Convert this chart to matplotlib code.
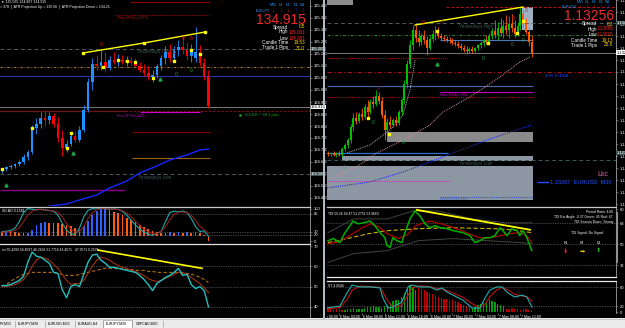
import numpy as np
import matplotlib
matplotlib.use('Agg')
import matplotlib.pyplot as plt
from matplotlib.patches import Rectangle
from matplotlib.lines import Line2D
from matplotlib.ticker import MultipleLocator, FormatStrFormatter, FixedLocator

plt.rcParams['font.family'] = ['Liberation Sans', 'DejaVu Sans']

W, H = 625.0, 328.0

# ---------------- EURJPY M30 (left window) ----------------
jpy_o = [134.595, 134.605, 134.615, 134.62, 134.63, 134.64, 134.665, 134.69, 134.81, 134.83,
         134.86, 134.85, 134.87, 134.83, 134.76, 134.71, 134.73, 134.77, 134.75, 134.80,
         134.90, 135.04, 135.13, 135.12, 135.14, 135.11, 135.15, 135.14, 135.15, 135.14,
         135.145, 135.135, 135.12, 135.10, 135.085, 135.065, 135.075, 135.12, 135.16, 135.19,
         135.16, 135.20, 135.215, 135.20, 135.17, 135.16, 135.19, 135.135, 135.07]
jpy_h = [134.61, 134.62, 134.63, 134.635, 134.65, 134.68, 134.70, 134.825, 134.86, 134.89,
         134.90, 134.89, 134.885, 134.865, 134.80, 134.75, 134.79, 134.795, 134.82, 134.925,
         135.06, 135.16, 135.175, 135.20, 135.19, 135.17, 135.19, 135.18, 135.175, 135.17,
         135.165, 135.16, 135.14, 135.13, 135.12, 135.10, 135.13, 135.175, 135.22, 135.23,
         135.22, 135.25, 135.27, 135.24, 135.23, 135.315, 135.225, 135.16, 135.10]
jpy_l = [134.585, 134.595, 134.605, 134.61, 134.62, 134.63, 134.65, 134.68, 134.78, 134.81,
         134.82, 134.83, 134.815, 134.74, 134.67, 134.69, 134.72, 134.74, 134.74, 134.79,
         134.89, 135.00, 135.10, 135.10, 135.09, 135.10, 135.13, 135.12, 135.13, 135.12,
         135.125, 135.11, 135.09, 135.07, 135.05, 135.04, 135.06, 135.10, 135.13, 135.14,
         135.15, 135.17, 135.18, 135.15, 135.14, 135.14, 135.12, 135.05, 134.91]
jpy_c = [134.605, 134.615, 134.62, 134.63, 134.64, 134.665, 134.69, 134.81, 134.83, 134.86,
         134.85, 134.87, 134.83, 134.76, 134.71, 134.73, 134.77, 134.75, 134.80, 134.90,
         135.04, 135.13, 135.12, 135.14, 135.11, 135.15, 135.14, 135.15, 135.14, 135.145,
         135.135, 135.12, 135.10, 135.085, 135.065, 135.075, 135.12, 135.16, 135.19, 135.16,
         135.20, 135.215, 135.20, 135.17, 135.20, 135.19, 135.135, 135.07, 134.92]
jpy_ma_x = [11, 15, 18, 22, 25, 29, 32, 36, 39, 43, 46, 48]
jpy_ma = [134.42, 134.43, 134.45, 134.475, 134.51, 134.545, 134.585, 134.62, 134.65, 134.675, 134.70, 134.705]
jpy_trend_x = [18.8, 33, 47.2]
jpy_trend = [135.185, 135.235, 135.29]
jpy_dots_x = [0, 7, 15, 16, 23.5, 27, 29, 31, 35, 40, 44, 46]
jpy_dots = [134.605, 134.81, 134.71, 134.785, 135.115, 135.15, 135.145, 135.14, 135.06, 135.145, 135.20, 135.18]
jpy_arrows_x = [1, 16.5, 36.7]
jpy_arrows = [134.525, 134.685, 135.055]
jpy_red0_x = [23, 40, 42, 44]
jpy_red0 = [135.23, 135.185, 135.26, 135.26]
jpy_green0_x = [40.5, 44]
jpy_green0 = [135.075, 135.10]
jpy_ao = [30, 31, 29, 28, 27, 26, 27, 34, 50, 56, 58, 57, 56, 55, 52, 50, 46, 40, 36, 46,
          62, 80, 92, 98, 102, 96, 90, 86, 80, 72, 64, 58, 50, 44, 38, 32, 28, 27, 26, 28,
          27, 28, 27, 28, 27, 28, 26, 18, 2]
jpy_ao_fast = [30, 31, 33, 40, 60, 88, 100, 98, 96, 98, 96, 94, 92, 80, 55, 35, 22, 22, 40, 75,
               95, 100, 99, 101, 100, 98, 99, 98, 92, 80, 65, 50, 38, 28, 22, 18, 25, 30, 60, 88,
               92, 90, 93, 88, 70, 45, 30, 32, 15]
jpy_ao_slow = [28, 29, 30, 33, 42, 60, 80, 92, 97, 97, 96, 95, 93, 88, 75, 55, 38, 28, 30, 45,
               70, 88, 97, 100, 100, 99, 98, 97, 94, 87, 76, 62, 48, 37, 29, 24, 24, 30, 45, 66,
               82, 89, 90, 88, 80, 64, 46, 36, 25]
jpy_rsi = [50.5, 50.5, 51, 52, 53, 55, 62, 67, 65, 64.5, 63, 61.5, 57, 56.5, 48.5, 44.5, 50, 51, 50, 56,
           62, 65.5, 66, 63, 61.5, 59.5, 59.5, 59, 58.5, 58, 57.5, 57, 55.5, 53.5, 51, 48, 51.5, 53, 54.5, 55.5,
           57, 59, 55.5, 56, 51, 49, 50, 48, 40]
jpy_rsi_sig = [50, 50, 50.5, 51, 52, 53.5, 56, 60, 63, 64.5, 64, 63, 61, 59, 56, 53, 51, 51.5, 51.5, 53,
               56.5, 60, 63, 64.5, 64, 63, 61.5, 60.5, 59.5, 59, 58, 57.5, 56.5, 55.5, 54, 53, 52.5, 53, 54, 55,
               56, 57, 57, 56, 54.5, 53, 51.5, 49.5, 47]
jpy_rsi_slow = [50, 51, 52.5, 54, 55, 56, 56.5, 57, 57, 57, 57, 57, 57, 56.5, 56, 55.5, 55.5, 55.5, 56, 56.5,
                57, 57.5, 58, 58.5, 59, 59, 59, 59, 59, 58.5, 58.5, 58, 58, 58, 57.5, 57.5, 57, 57, 57, 57,
                57, 57, 56.5, 56.5, 56, 55.5, 54.5, 53.5, 52]
jpy_rsi_trend_x = [22.3, 46.5]
jpy_rsi_trend = [68, 59]

# ---------------- EURUSD M30 (right window) ----------------
eur_o = [1.12755, 1.12750, 1.12755, 1.12745, 1.12750, 1.12745, 1.12775, 1.12795, 1.12820, 1.12885,
         1.12930, 1.12915, 1.12950, 1.12935, 1.12985, 1.12960, 1.13010, 1.13000, 1.13040, 1.13015,
         1.12945, 1.12870, 1.12910, 1.12895, 1.12920, 1.12905, 1.12960, 1.13020, 1.13100, 1.13200,
         1.13295, 1.13370, 1.13330, 1.13310, 1.13340, 1.13320, 1.13280, 1.13325, 1.13350, 1.13365,
         1.13340, 1.13330, 1.13325, 1.13320, 1.13315, 1.13305, 1.13300, 1.13290, 1.13280, 1.13270,
         1.13265, 1.13275, 1.13265, 1.13280, 1.13295, 1.13305, 1.13320, 1.13310, 1.13340, 1.13365,
         1.13345, 1.13380, 1.13355, 1.13390, 1.13370, 1.13400, 1.13380, 1.13350, 1.13390, 1.13450,
         1.13400, 1.13360, 1.13310]
eur_h = [1.12765, 1.12760, 1.12765, 1.12760, 1.12765, 1.12785, 1.12805, 1.12830, 1.12900, 1.12955,
         1.12960, 1.12960, 1.12980, 1.13000, 1.13020, 1.13025, 1.13040, 1.13070, 1.13060, 1.13035,
         1.12970, 1.12930, 1.12940, 1.12930, 1.12940, 1.12970, 1.13030, 1.13120, 1.13220, 1.13320,
         1.13395, 1.13395, 1.13370, 1.13355, 1.13370, 1.13340, 1.13340, 1.13370, 1.13390, 1.13385,
         1.13355, 1.13345, 1.13340, 1.13335, 1.13330, 1.13320, 1.13315, 1.13305, 1.13295, 1.13290,
         1.13285, 1.13290, 1.13285, 1.13300, 1.13315, 1.13330, 1.13345, 1.13355, 1.13380, 1.13420,
         1.13410, 1.13430, 1.13420, 1.13445, 1.13440, 1.13450, 1.13420, 1.13410, 1.13485, 1.13470,
         1.13430, 1.13380, 1.13345]
eur_l = [1.12740, 1.12740, 1.12740, 1.12735, 1.12740, 1.12735, 1.12765, 1.12780, 1.12805, 1.12865,
         1.12900, 1.12905, 1.12920, 1.12925, 1.12930, 1.12950, 1.12980, 1.12990, 1.13000, 1.12930,
         1.12820, 1.12840, 1.12880, 1.12885, 1.12890, 1.12895, 1.12945, 1.13000, 1.13080, 1.13180,
         1.13270, 1.13310, 1.13290, 1.13295, 1.13300, 1.13245, 1.13270, 1.13310, 1.13320, 1.13330,
         1.13320, 1.13315, 1.13310, 1.13305, 1.13295, 1.13290, 1.13280, 1.13270, 1.13260, 1.13250,
         1.13255, 1.13255, 1.13260, 1.13270, 1.13280, 1.13290, 1.13300, 1.13300, 1.13325, 1.13330,
         1.13320, 1.13340, 1.13330, 1.13350, 1.13330, 1.13360, 1.13335, 1.13340, 1.13370, 1.13380,
         1.13350, 1.13290, 1.13235]
eur_c = [1.12750, 1.12755, 1.12745, 1.12750, 1.12745, 1.12775, 1.12795, 1.12820, 1.12885, 1.12930,
         1.12915, 1.12950, 1.12935, 1.12985, 1.12960, 1.13010, 1.13000, 1.13040, 1.13015, 1.12945,
         1.12870, 1.12910, 1.12895, 1.12920, 1.12905, 1.12960, 1.13020, 1.13100, 1.13200, 1.13295,
         1.13370, 1.13330, 1.13310, 1.13340, 1.13320, 1.13280, 1.13325, 1.13350, 1.13365, 1.13340,
         1.13330, 1.13325, 1.13320, 1.13315, 1.13305, 1.13300, 1.13290, 1.13280, 1.13270, 1.13265,
         1.13275, 1.13265, 1.13280, 1.13295, 1.13305, 1.13320, 1.13310, 1.13340, 1.13365, 1.13345,
         1.13380, 1.13355, 1.13390, 1.13370, 1.13400, 1.13380, 1.13350, 1.13390, 1.13450, 1.13400,
         1.13360, 1.13310, 1.13256]
eur_sar_x = [6.7, 14.8, 21.9, 26.5, 29, 30.8]
eur_sar = [1.12755, 1.12795, 1.12870, 1.12945, 1.13070, 1.13220]
eur_pink_x = [1.8, 9.5, 17.3, 26.5, 36, 40.6, 50.2, 60.8, 67.8, 71.4]
eur_pink = [1.12630, 1.12680, 1.12755, 1.12820, 1.12895, 1.12960, 1.13035, 1.13135, 1.13210, 1.13235]
eur_ma_x = [-0.4, 14.8, 26.5, 36, 44.2, 56.2, 72]
eur_ma = [1.12580, 1.12610, 1.12660, 1.12710, 1.12755, 1.12820, 1.12895]
eur_trend_x = [30.8, 68.9]
eur_trend = [1.13395, 1.13485]
eur_zone_lo = [1.12810, 1.12715, 1.12520, 1.13370]
eur_zone_hi = [1.12860, 1.12740, 1.12690, 1.13485]
eur_zone_start = [20.9, 4.9, -0.4, 68.6]
eur_dots_x = [14.1, 21.6, 38.5, 56.5, 66.8, 68.9]
eur_dots = [1.12930, 1.12850, 1.13365, 1.13305, 1.13355, 1.13415]
eur_red0_x = [13.8, 17.7, 33.6, 40.3, 62.9, 65.4, 70]
eur_red0 = [1.12955, 1.13080, 1.13410, 1.13405, 1.13385, 1.13425, 1.13470]
eur_green0_x = [5.7, 15.9, 26.5, 54.8, 65, 68.9]
eur_green0 = [1.12685, 1.12905, 1.12805, 1.13230, 1.13300, 1.13320]

tdi_x = [0, 1.8, 4.2, 6, 7.8, 8.8, 10.6, 12.4, 14.8, 16.6, 18.4, 20.1, 20.8, 21.9, 22.9, 24.4, 26.1, 27.2,
         29, 30.7, 32.5, 34.3, 36, 37.8, 39.6, 42.1, 44.2, 47.7, 50.2, 51.9, 53.7, 55.5, 57.2, 59, 60.8,
         61.8, 63.3, 65, 66.8, 67.8, 68.9, 70.3, 72]
tdi_green = [53, 55, 51.5, 60, 66, 70, 67.6, 68.4, 70, 66, 60, 55.7, 49, 47.3, 55.7, 53, 51.5, 60,
             71.8, 78.6, 74.4, 67.6, 64.2, 66, 64.2, 63.4, 61.7, 60, 57.4, 51.5, 53.2, 55.7, 55.7, 57.4, 64.2,
             61.7, 57.4, 63.4, 61.7, 57.4, 61.7, 55.7, 44.7]
tdi_red_x = [0, 4, 8, 12, 15, 18, 21, 25, 28, 31, 36, 41, 46, 50, 53, 56, 60, 64, 67, 70, 72]
tdi_red = [50.5, 52, 58, 64, 67.6, 65, 59, 55, 58, 66, 70, 67, 63, 59, 56, 55, 57, 59, 60, 58, 51.5]
tdi_mid_x = [0, 7, 14, 21, 32, 44, 59, 65, 72]
tdi_mid = [51.5, 55, 59, 61.7, 63.4, 64.2, 63.4, 62.5, 60]
tdi_up_x = [0, 9, 21, 30, 39, 51, 63, 72]
tdi_up = [60, 71.8, 71.8, 78.6, 78.6, 71.8, 68.4, 68.4]
tdi_dn_x = [0, 9, 21, 32, 44, 56, 68, 72]
tdi_dn = [34.5, 42, 44.7, 53.2, 54.9, 53.2, 51.5, 50.6]
tdi_trend_x = [31.4, 71.4]
tdi_trend = [79.5, 62.5]

st_x = [-0.4, 4.2, 6.7, 8.5, 11.3, 14.8, 18.4, 19.4, 21.2, 23, 26.1, 28.3, 29.7, 32.5, 36, 38.5,
        40.3, 42, 44.2, 47.7, 50.9, 53.7, 55.5, 57.2, 59.7, 61.5, 63.6, 66, 68.6, 70.3, 72.1]
st_main = [14, 20, 62, 87, 81, 81, 78, 46, 14, 17, 33, 81, 87, 81, 81, 71, 78, 65, 55, 39, 14, 14,
           46, 71, 81, 81, 62, 49, 55, 49, 17]
st_sig = [12, 15, 40, 70, 84, 82, 80, 65, 35, 18, 22, 55, 78, 85, 82, 76, 75, 70, 62, 48, 28, 14,
          25, 50, 72, 80, 72, 58, 52, 50, 35]
st_hist = [-15, -14, -12, -12, -10, -9, 8, 10, 12, 14, 12, 10, 12, 14, 16, 18, 20, 18, 16, 14,
           20, 25, 30, 35, 38, 40, 50, 62, 75, 86, 80, 70, -78, -74, -70, -66, -62, -58, -54, -50,
           -46, -44, -42, -40, -38, -36, -32, -28, -24, -20, -17, 14, 18, 22, 26, 30, 34, 38, 36, 32,
           28, 24, 20, -12, -10, -14, -12, -10, -8, -10, -12, -8, -6]
time_idx = [-4, 4, 12, 20, 28, 36, 44, 52, 60, 68]
time_lab = ['6 May 00:00', '6 May 04:00', '6 May 08:00', '6 May 12:00', '6 May 16:00',
            '6 May 20:00', '7 May 00:00', '7 May 04:00', '7 May 08:00', '7 May 12:00']
tabs = ['PY,M15', 'EURJPY,M30', 'EURUSD,M30', 'EURAUD,H4', 'EURJPY,M30', 'GBPCAD,M30']

fig = plt.figure(figsize=(6.25, 3.28), dpi=100, facecolor='black')


def fx(px):
    return px / W


def fy(py):
    return 1 - py / H


def panel(x0, y0, x1, y1):
    ax = fig.add_axes([x0 / W, 1 - y1 / H, (x1 - x0) / W, (y1 - y0) / H])
    ax.set_facecolor('black')
    for s in ax.spines.values():
        s.set_visible(False)
    ax.spines['right'].set_visible(True)
    ax.spines['right'].set_color('#a0a0a0')
    ax.spines['right'].set_linewidth(0.6)
    ax.tick_params(left=False, bottom=False, labelleft=False, labelbottom=False,
                   right=True, labelright=True, length=1.5, width=0.4, pad=1,
                   color='#a0a0a0', labelcolor='white', labelsize=3)
    return ax


def top_line(ax, color):
    ax.spines['top'].set_visible(True)
    ax.spines['top'].set_color(color)
    ax.spines['top'].set_linewidth(0.9)


def candles(ax, o, h, l, c, up, down, width):
    x = np.arange(len(o))
    o = np.array(o)
    c = np.array(c)
    col = np.where(c >= o, up, down)
    ax.vlines(x, l, h, colors=col, linewidth=0.6, zorder=3)
    ax.bar(x, c - o, bottom=o, width=width, color=col, linewidth=0, zorder=3)


def ftext(px, py, s, **kw):
    kw.setdefault('color', 'white')
    kw.setdefault('fontsize', 3)
    kw.setdefault('va', 'center')
    fig.text(fx(px), fy(py), s, **kw)


# ---------- left main ----------
lm = panel(0, 0, 310, 206)
lm.set_xlim(-0.47, 71.6)
lm.set_ylim(134.42, 135.45)
lm.yaxis.set_major_locator(MultipleLocator(0.06))
lm.yaxis.set_major_formatter(FormatStrFormatter('%.3f'))

lm.hlines(135.44, 29.8, 48.4, color='#8b0000', lw=0.8)
lm.hlines(135.375, 26.3, 48.4, color='#c00000', lw=0.6, linestyles=(0, (1, 1)))
lm.text(27, 135.36, 'Prev D Fibo 127%', color='#c81010', fontsize=2.7, va='center')
lm.axhline(135.205, color='#4a5c5c', lw=0.7, ls=(0, (4, 3)))
lm.text(31.4, 135.19, 'Yesterdays High', color='#3e5a5a', fontsize=3.3, va='center')
lm.axhline(135.115, color='#c88a20', lw=0.6, ls=(0, (3, 2, 1, 2)))
lm.axhline(135.07, color='#2838a8', lw=0.8)
lm.axhline(134.915, color='#8a8a8a', lw=0.6)
lm.hlines(134.895, -0.5, 28.6, color='#d01010', lw=0.9, linestyles=(0, (1, 0.6)))
lm.hlines(134.895, 28.6, 71.6, color='#901010', lw=0.6, linestyles=(0, (3, 2)))
lm.hlines(134.89, 32.1, 46.0, color='#d000d0', lw=0.8)
lm.text(26.7, 134.872, 'Prev D Fibo 62%', color='#d000d0', fontsize=2.7, va='center')
lm.plot([55.3], [134.875], marker='s', ms=0.8, color='#20a020', ls='none')
lm.text(56.2, 134.875, '134.835 * 68.3 pips', color='#20a020', fontsize=3, va='center')
lm.hlines(134.79, 30.2, 48.4, color='#800000', lw=0.8)
lm.hlines(134.66, 30.2, 48.4, color='#a06010', lw=0.8)
lm.axhline(134.58, color='#4a5c5c', lw=0.7, ls=(0, (4, 3)))
lm.text(31.6, 134.562, 'Yesterdays Low', color='#3e5a5a', fontsize=3.3, va='center')
lm.hlines(134.50, -0.5, 28.6, color='#8a008a', lw=1.0)
lm.plot(jpy_ma_x, jpy_ma, color='#1428ff', lw=1.0, zorder=2)
candles(lm, jpy_o, jpy_h, jpy_l, jpy_c, '#1e90ff', '#ff0000', 0.6)
lm.plot(jpy_trend_x, jpy_trend, color='yellow', lw=1.0, marker='s', ms=1.8, zorder=4)
lm.plot(jpy_dots_x, jpy_dots, ls='none', marker='s', ms=1.5, color='yellow', zorder=4)
lm.plot(jpy_arrows_x, jpy_arrows, ls='none', marker='^', ms=2.2, color='#20a040', zorder=4)
for x, y in zip(jpy_red0_x, jpy_red0):
    lm.text(x, y, '0', color='#d01010', fontsize=3.5, ha='center', va='center', zorder=5)
for x, y in zip(jpy_green0_x, jpy_green0):
    lm.text(x, y, '0', color='#20a040', fontsize=3.5, ha='center', va='center', zorder=5)
ytr = lm.get_yaxis_transform()
lm.text(1.003, 134.915, '134.915', transform=ytr, fontsize=3, color='black', va='center',
        bbox=dict(fc='white', ec='none', pad=0.3), clip_on=False)
for v in [135.205, 134.58]:
    lm.text(1.003, v, '%.3f' % v, transform=ytr, fontsize=3, color='white', va='center',
            bbox=dict(fc='#3c5050', ec='none', pad=0.3), clip_on=False)

# ---------- left AO panel ----------
la = panel(0, 207, 310, 243)
la.set_xlim(-0.47, 71.6)
la.set_ylim(-5, 105)
top_line(la, '#c8c8c8')
la.yaxis.set_major_locator(FixedLocator([0, 20, 30, 85, 100]))
for lv in [85, 28, 20]:
    la.axhline(lv, color='#808080', lw=0.5, ls=(0, (1, 1.5)))
ao = np.array(jpy_ao)
ao_col = ['#3060ff' if i > 0 and ao[i] >= ao[i - 1] else '#ff5a10' for i in range(len(ao))]
la.bar(np.arange(len(ao)), ao - 16, bottom=16, width=0.4, color=ao_col, linewidth=0)
la.plot(jpy_ao_fast, color='#20a8a8', lw=0.8)
la.plot(jpy_ao_slow, color='#a02020', lw=0.7)
la.text(0.005, 0.86, 'SD AO 0.1581', transform=la.transAxes, color='white', fontsize=2.6)

# ---------- left RSI panel ----------
lr = panel(0, 244, 310, 318)
lr.set_xlim(-0.47, 71.6)
lr.set_ylim(34.5, 71)
top_line(lr, '#e0e0e0')
lr.yaxis.set_major_locator(FixedLocator([40, 50, 60, 70]))
for lv in [60, 50, 40]:
    lr.axhline(lv, color='#808080', lw=0.5, ls=(0, (1, 1.5)))
lr.plot(jpy_rsi_slow, color='#b07010', lw=0.8, ls=(0, (3, 2)))
lr.plot(jpy_rsi_sig, color='#a03010', lw=0.8)
lr.plot(jpy_rsi, color='#20c0c0', lw=1.0)
lr.plot(jpy_rsi_trend_x, jpy_rsi_trend, color='yellow', lw=1.2)
lr.text(0.005, 0.95, 'rsi 55.4290 54.4597 46.2696 51.7719 42.4571   47.9571 0.2576',
        transform=lr.transAxes, color='white', fontsize=2.4, va='top')

# ---------- right main ----------
XL = (-0.35, 101.8)
rm = panel(327, 0, 616, 206)
rm.set_xlim(*XL)
rm.set_ylim(1.12490, 1.13520)
rm.yaxis.set_major_locator(MultipleLocator(0.0006))
rm.yaxis.set_major_formatter(FormatStrFormatter('%.5f'))
zone_cols = ['#8a8a8a', '#8d97a3', '#8d97a3', '#9fb0c4']
for lo, hi, st, cl in zip(eur_zone_lo, eur_zone_hi, eur_zone_start, zone_cols):
    rm.add_patch(Rectangle((st, lo), 72.4 - st, hi - lo, fc=cl, ec='none', zorder=0.5))
rm.hlines(1.13485, 41.7, XL[1], color='#c01010', lw=0.7, linestyles=(0, (3, 2)))
rm.axhline(1.13405, color='#4a5c5c', lw=0.7, ls=(0, (4, 3)))
rm.text(46.3, 1.13390, 'Yesterdays High', color='#3e5a5a', fontsize=3.3, va='center')
rm.axhline(1.13345, color='#2a8a2a', lw=0.7, ls=(0, (3, 2, 1, 2)))
rm.hlines(1.13320, 39.6, 72.4, color='#4a78b8', lw=0.8)
rm.axhline(1.13256, color='#8a8a8a', lw=0.6)
rm.hlines(1.13230, -0.4, 42.1, color='#b01010', lw=0.8, linestyles=(0, (1, 1)))
rm.axhline(1.13160, color='#b01010', lw=0.8, ls=(0, (4, 2, 1, 2)))
rm.text(76.7, 1.13140, '4HR 10 EMA', color='#2040ff', fontsize=2.8, va='center')
rm.hlines(1.13090, -0.4, 72.4, color='#4a6ab0', lw=0.8)
rm.hlines(1.13060, 39.6, 72.4, color='#c000c0', lw=0.8)
rm.text(39.6, 1.13045, 'Prev D Fibo 38%', color='#d000d0', fontsize=2.7, va='center')
rm.hlines(1.13035, -0.4, 72.4, color='#a01010', lw=0.8, linestyles=(0, (1, 1)))
rm.hlines(1.12755, -0.4, 42.4, color='#3070d0', lw=0.9)
rm.axhline(1.12720, color='#3a5a5a', lw=0.7, ls=(0, (4, 3)))
rm.text(46.3, 1.12705, 'Yesterdays Low', color='#3e5a5a', fontsize=3.3, va='center')
rm.hlines(1.12615, -0.4, 43.1, color='#c050c0', lw=0.6)
rm.hlines(1.12535, 39.6, 72.4, color='#3050d0', lw=0.8, linestyles=(0, (1, 1)))
rm.text(39.6, 1.12525, 'Prev D Fibo 13%', color='#3050d0', fontsize=2.7, va='center')
rm.plot(eur_sar_x, eur_sar, color='#b0b0b0', lw=0.7, ls=(0, (1, 1)))
rm.plot(eur_pink_x, eur_pink, color='#d090a0', lw=0.7, ls=(0, (1, 1)))
rm.plot(eur_ma_x, eur_ma, color='#2030e0', lw=0.8, ls=(0, (1, 1)))
candles(rm, eur_o, eur_h, eur_l, eur_c, '#00c000', '#ff5a00', 0.7)
rm.plot(eur_trend_x, eur_trend, color='yellow', lw=1.0, zorder=4)
rm.plot(eur_dots_x, eur_dots, ls='none', marker='s', ms=1.5, color='yellow', zorder=4)
rm.plot([38.5], [1.13200], ls='none', marker='^', ms=2.2, color='#20a040', zorder=4)
for x, y in zip(eur_red0_x, eur_red0):
    rm.text(x, y, '0', color='#d01010', fontsize=3.5, ha='center', va='center', zorder=5)
for x, y in zip(eur_green0_x, eur_green0):
    rm.text(x, y, '0', color='#20a040', fontsize=3.5, ha='center', va='center', zorder=5)
rm.hlines(1.12610, 74, 78, color='#2050ff', lw=1.0)
rm.text(78.4, 1.12610, '1.13267  EURUSD  M30', color='#2050ff', fontsize=4.1, va='center')
rm.text(97.3, 1.12650, 'Lkc', color='#e060a0', fontsize=5, va='center', ha='center')
ytr2 = rm.get_yaxis_transform()
rm.text(1.003, 1.13256, '1.13256', transform=ytr2, fontsize=3, color='black', va='center',
        bbox=dict(fc='white', ec='none', pad=0.3), clip_on=False)
for v in [1.13405, 1.12755]:
    rm.text(1.003, v, '%.5f' % v, transform=ytr2, fontsize=3, color='white', va='center',
            bbox=dict(fc='#3c5050', ec='none', pad=0.3), clip_on=False)

# ---------- right TDI panel ----------
rt = panel(327, 207, 616, 277)
rt.set_xlim(*XL)
rt.set_ylim(22, 82)
top_line(rt, '#c8c8c8')
rt.spines['bottom'].set_visible(True)
rt.spines['bottom'].set_color('#e8e8e8')
rt.spines['bottom'].set_linewidth(0.9)
rt.yaxis.set_major_locator(FixedLocator([32, 50, 68, 80]))
for lv in [68, 50, 32]:
    rt.axhline(lv, color='#808080', lw=0.5, ls=(0, (1, 1.5)))
rt.plot(tdi_up_x, tdi_up, color='#3c463c', lw=0.7)
rt.plot(tdi_dn_x, tdi_dn, color='#3c463c', lw=0.7)
rt.plot(tdi_mid_x, tdi_mid, color='#c8b400', lw=0.8, ls=(0, (4, 2)))
rt.plot(tdi_red_x, tdi_red, color='#c00000', lw=0.8)
rt.plot(tdi_x, tdi_green, color='#00b000', lw=1.1)
rt.plot(tdi_trend_x, tdi_trend, color='yellow', lw=1.3)
rt.text(0.003, 0.93, 'TDI 59.26 49.47 51.2751 53.9663', transform=rt.transAxes,
        color='white', fontsize=2.4, va='top')

# ---------- right stochastic panel ----------
rs = panel(327, 281, 616, 313)
rs.set_xlim(*XL)
rs.set_ylim(-2, 100)
top_line(rs, '#e8e8e8')
rs.yaxis.set_major_locator(FixedLocator([0, 20, 80]))
for lv in [80, 20]:
    rs.axhline(lv, color='#808080', lw=0.5, ls=(0, (1, 1.5)))
hv = np.array(st_hist)
rs.bar(np.arange(len(hv)), np.abs(hv), width=0.45,
       color=np.where(hv > 0, '#00a000', '#c00000'), linewidth=0)
rs.plot(st_x, st_sig, color='#c01010', lw=0.8)
rs.plot(st_x, st_main, color='#20b0b0', lw=0.8)
rs.text(0.003, 0.9, 'ST 4.0044', transform=rs.transAxes, color='white', fontsize=2.4, va='top')

# ---------- time axis ----------
tx = fig.add_axes([fx(327), fy(320), fx(616) - fx(327), 7 / H])
tx.set_facecolor('black')
tx.set_xlim(*XL)
tx.set_ylim(0, 1)
tx.axis('off')
for i, lab in zip(time_idx, time_lab):
    tx.vlines(i, 0.75, 1.0, color='#a0a0a0', lw=0.4)
    tx.text(i + 0.3, 0.4, lab, color='white', fontsize=2.6, va='center', clip_on=True)

# ---------- window frames / decorations ----------
fig.add_artist(Line2D([fx(324), fx(324)], [fy(0), fy(319)], color='#b8c0cc', lw=1.4))
fig.add_artist(Line2D([fx(617), fx(617)], [fy(213), fy(262)], color='#909090', lw=1.5))
fig.add_artist(Rectangle((fx(327), fy(5)), fx(26), 5 / H, fc='#8c8c8c', ec='none'))
fig.add_artist(Rectangle((0, 0), 1, 10 / H, fc='#ececec', ec='none'))
fig.add_artist(Line2D([0, 1], [fy(318.5), fy(318.5)], color='#c8c8c8', lw=0.8))
fig.add_artist(Rectangle((fx(103), 0), fx(29), 8 / H, fc='white', ec='#909090', lw=0.4))
tab_x = [0, 18, 48, 78, 106, 136]
for tx0, name in zip(tab_x, tabs):
    ftext(tx0, 324, name, color='black', fontsize=2.5)
for sx in [15, 45, 75, 103, 132, 163]:
    fig.add_artist(Line2D([fx(sx), fx(sx)], [fy(327), fy(321)], color='#909090', lw=0.4))

# ---------- top-left text lines (left window) ----------
ftext(1, 2, '\u25bc 135.095 134.887 134.915', fontsize=2.5)
ftext(0, 7, '= 378  |  ATR Projection Up = 135.66  |  ATR Projection Down = 134.21', fontsize=2.5)


# ---------- info panels ----------
def info(xlab, xval, xs, y_tf, y_arr, y_big, rows, sym, price):
    for x, lab in zip(xs, ['M15', 'H1', 'H4', 'D1', 'W1']):
        ftext(x, y_tf, lab, color='#2a9bff', fontsize=2.6, ha='center')
    for x, a in zip(xs, ['\u2193', '\u2193', '\u2193', '\u2191', '\u2191']):
        ftext(x, y_arr, a, color='#ff2020' if a == '\u2193' else '#2050ff', fontsize=4,
              ha='center', fontweight='bold')
    ftext(xs[0] - 3, y_arr, sym, color='#2a9bff', fontsize=2.6, ha='right')
    ftext(xval + 1, y_big, price, color='#ee2a2a', fontsize=10, ha='right')
    for (lab, val, vc), yy in rows:
        ftext(xlab, yy, lab, color='white', fontsize=3.3, ha='right')
        ftext(xval, yy, val, color=vc, fontsize=3.3, ha='right')


info(288, 305, [273, 281, 288, 296, 303], 5, 11, 20,
     [(('Spread', '0.5', '#ffd700'), 27), (('High', '135.061', '#ff2020'), 32),
      (('Low', '134.681', '#ff2020'), 38), (('Candle Time', '19:53', '#ffd700'), 43),
      (('Trade 1 Pips', '31.0', '#ffd700'), 48)], 'EURJPY', '134.915')
info(597, 613, [580, 587, 594, 601, 608], 2, 7, 16,
     [(('Spread', '0.3', '#ffd700'), 24), (('High', '1.13586', '#ff2020'), 29),
      (('Low', '1.13026', '#ff2020'), 34), (('Candle Time', '19:13', '#ffd700'), 40),
      (('Trade 1 Pips', '25.8', '#ffd700'), 45)], 'EURUSD', '1.13256')

# TDI info text
ftext(613, 212, 'Period Ratio: 4.66', fontsize=2.4, ha='right')
ftext(613, 217, 'TDI Est Angle -0.37 Green: 45 Red: 47', fontsize=2.4, ha='right')
ftext(613, 222, 'TDI Season Down, Strong', fontsize=2.4, ha='right')
ftext(587, 233, 'TDI Signal: No Signal', fontsize=2.4, ha='center')
for x, lab, arr, cl in [(566, 'H1', '\u2b07', '#ff2020'), (582, 'H4', '\u27a1', '#e8d000'),
                        (599, 'D1', '\u2b06', '#20b020')]:
    ftext(x, 243, lab, fontsize=2.4, ha='center')
    ftext(x, 251, arr, color=cl, fontsize=4.5, ha='center', family='DejaVu Sans')

fig.savefig('out.png', dpi=100, facecolor='black')
